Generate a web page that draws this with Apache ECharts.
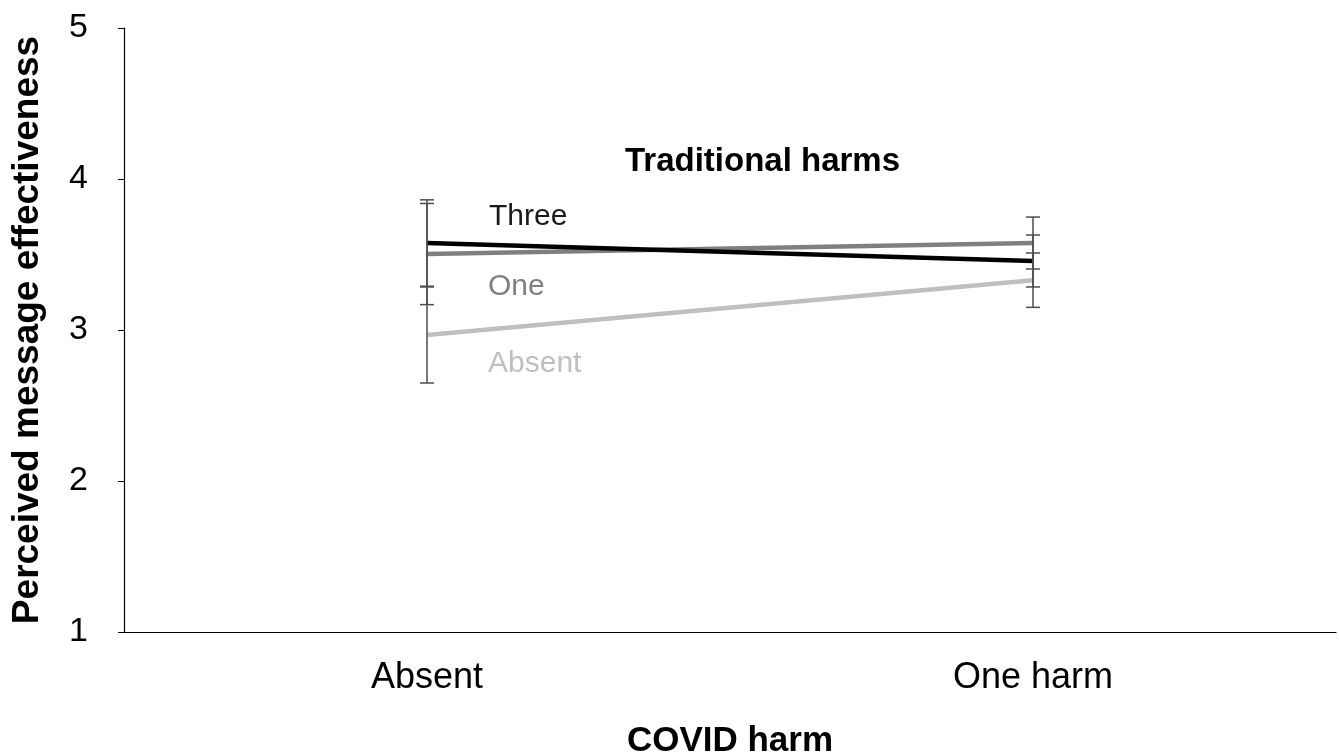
<!DOCTYPE html>
<html><head><meta charset="utf-8">
<script src="https://cdn.jsdelivr.net/npm/echarts@6/dist/echarts.min.js"></script>
<style>html,body{margin:0;padding:0;background:#fff;overflow:hidden}#c{width:1339px;height:754px}</style>
</head><body><div id="c"></div>
<script>
const categories = ['Absent', 'One harm'];
const seriesNames = ['Three', 'One', 'Absent'];
const threeMean = [3.576, 3.457];
const threeErr = [0.286, 0.172];
const oneMean = [3.503, 3.576];
const oneErr = [0.335, 0.172];
const absentMean = [2.967, 3.330];
const absentErr = [0.318, 0.180];
const yTicks = [1, 2, 3, 4, 5];

const colors = ['#000000', '#7f7f7f', '#bfbfbf'];
const means = [threeMean, oneMean, absentMean];
const errs = [threeErr, oneErr, absentErr];
const FONT = 'Liberation Sans, Arial, sans-serif';

const chart = echarts.init(document.getElementById('c'), null, {width: 1339, height: 754});
const lineSeries = means.map((m, i) => ({
  name: seriesNames[i], type: 'line', data: m, symbol: 'none',
  lineStyle: {color: colors[i], width: 4.5}, z: 3 - i + 2, animation: false
}));
const errData = [];
means.forEach((m, i) => m.forEach((v, j) => errData.push([j, v - errs[i][j], v + errs[i][j]])));
const errSeries = {
  type: 'custom', animation: false, z: 10,
  renderItem: function (params, api) {
    const x = api.coord([api.value(0), api.value(1)])[0];
    const lo = api.coord([api.value(0), api.value(1)])[1];
    const hi = api.coord([api.value(0), api.value(2)])[1];
    const w = 7;
    const st = {stroke: '#4d4d4d', lineWidth: 1.5};
    return {type: 'group', children: [
      {type: 'line', shape: {x1: x, y1: lo, x2: x, y2: hi}, style: st},
      {type: 'line', shape: {x1: x - w, y1: lo, x2: x + w, y2: lo}, style: st},
      {type: 'line', shape: {x1: x - w, y1: hi, x2: x + w, y2: hi}, style: st}
    ]};
  },
  data: errData
};

chart.setOption({
  backgroundColor: '#ffffff',
  animation: false,
  grid: {left: 124, top: 28, right: 3, bottom: 122, containLabel: false, outerBoundsMode: 'none'},
  xAxis: {
    type: 'category', data: categories, boundaryGap: true,
    axisLine: {lineStyle: {color: '#000', width: 1.2}},
    axisTick: {show: false},
    axisLabel: {color: '#000', fontSize: 36, fontFamily: FONT, margin: 28},
    name: 'COVID harm', nameLocation: 'middle', nameGap: 92,
    nameTextStyle: {color: '#000', fontSize: 35, fontWeight: 'bold', fontFamily: FONT}
  },
  yAxis: {
    type: 'value', min: yTicks[0], max: yTicks[yTicks.length - 1], interval: 1,
    splitLine: {show: false},
    axisLine: {show: true, lineStyle: {color: '#000', width: 1.2}},
    axisTick: {show: true, inside: false, length: 6, lineStyle: {color: '#000'}},
    axisLabel: {color: '#000', fontSize: 34, fontFamily: FONT, margin: 36},
    name: 'Perceived message effectiveness', nameLocation: 'middle', nameGap: 78,
    nameTextStyle: {color: '#000', fontSize: 37, fontWeight: 'bold', fontFamily: FONT}
  },
  graphic: [
    {type: 'text', left: 625, top: 145, style: {text: 'Traditional harms', font: 'bold 33px ' + FONT, fill: '#000'}},
    {type: 'text', left: 489, top: 202, style: {text: seriesNames[0], font: '30px ' + FONT, fill: '#1a1a1a'}},
    {type: 'text', left: 488, top: 272, style: {text: seriesNames[1], font: '30px ' + FONT, fill: '#7f7f7f'}},
    {type: 'text', left: 488, top: 349, style: {text: seriesNames[2], font: '30px ' + FONT, fill: '#bfbfbf'}}
  ],
  series: [...lineSeries, errSeries]
});
</script></body></html>
